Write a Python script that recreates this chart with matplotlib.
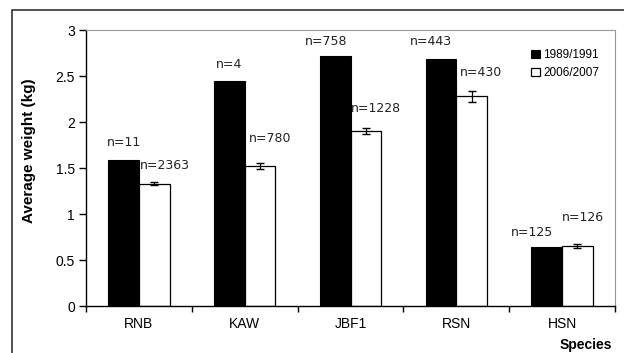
import numpy as np
import matplotlib.pyplot as plt
from matplotlib.patches import Rectangle

species = ['RNB', 'KAW', 'JBF1', 'RSN', 'HSN']
w_1989 = [1.59, 2.45, 2.72, 2.69, 0.64]
w_2006 = [1.33, 1.52, 1.90, 2.28, 0.65]
err_2006 = [0.02, 0.03, 0.03, 0.06, 0.02]
n_1989 = ['n=11', 'n=4', 'n=758', 'n=443', 'n=125']
n_2006 = ['n=2363', 'n=780', 'n=1228', 'n=430', 'n=126']

# label offsets (x in category units, y in kg)
off_1989 = [(0.0, 0.19), (0.0, 0.18), (-0.09, 0.15), (-0.09, 0.18), (-0.14, 0.16)]
off_2006 = [(0.1, 0.20), (0.1, 0.30), (0.1, 0.25), (0.09, 0.26), (0.05, 0.31)]

fig = plt.figure(figsize=(6.24, 3.53), dpi=100)
fig.patches.append(Rectangle((12/624, -0.1), 1.0, 1 - 10/353 + 0.1, transform=fig.transFigure,
                             fill=False, edgecolor='#333333', linewidth=1.2))
ax = fig.add_axes([86/624, 47/353, 529/624, 276/353])

x = np.arange(len(species))
bw = 0.29
ax.bar(x - bw/2, w_1989, bw, color='black', edgecolor='black', linewidth=0.8, label='1989/1991')
ax.bar(x + bw/2, w_2006, bw, color='white', edgecolor='black', linewidth=0.9, label='2006/2007')
ax.errorbar(x + bw/2, w_2006, yerr=err_2006, fmt='none', ecolor='black', elinewidth=0.9, capsize=3)

for i in range(len(species)):
    ax.text(x[i] - bw/2 + off_1989[i][0], w_1989[i] + off_1989[i][1], n_1989[i],
            ha='center', va='center', fontsize=9, family='DejaVu Sans', color='#222222')
    ax.text(x[i] + bw/2 + off_2006[i][0], w_2006[i] + off_2006[i][1], n_2006[i],
            ha='center', va='center', fontsize=9, family='DejaVu Sans', color='#222222')

ax.set_xlim(-0.5, 4.5)
ax.set_ylim(0, 3)
ax.set_yticks([0, 0.5, 1, 1.5, 2, 2.5, 3])
ax.set_yticklabels(['0', '0.5', '1', '1.5', '2', '2.5', '3'], family='Liberation Sans', fontsize=10)
ax.set_xticks(np.arange(-0.5, 5, 1))
ax.set_xticklabels([])
ax.set_xticks(x, minor=True)
ax.set_xticklabels(species, minor=True, family='Liberation Sans', fontsize=10)
ax.tick_params(axis='x', which='minor', length=0, pad=8)
ax.tick_params(axis='x', which='major', direction='out', length=4, width=1)
ax.tick_params(axis='y', direction='out', length=5, width=1, pad=3)

for s in ['top', 'right']:
    ax.spines[s].set_color('#999999')
    ax.spines[s].set_linewidth(0.8)
for s in ['left', 'bottom']:
    ax.spines[s].set_color('black')
    ax.spines[s].set_linewidth(1.0)

fig.text(29/624, 1 - 151/353, 'Average weight (kg)', rotation=90, ha='center', va='center',
         family='Liberation Sans', fontsize=11, fontweight='bold')
fig.text(586/624, 1 - 345/353, 'Species', ha='center', va='center',
         family='Liberation Sans', fontsize=10, fontweight='bold')

ax.legend(loc='upper right', bbox_to_anchor=(0.99, 0.97), frameon=False,
          prop={'family': 'Liberation Sans', 'size': 8.5},
          handlelength=0.7, handleheight=0.7, handletextpad=0.3, labelspacing=0.5)

plt.savefig('out.png', dpi=100)
